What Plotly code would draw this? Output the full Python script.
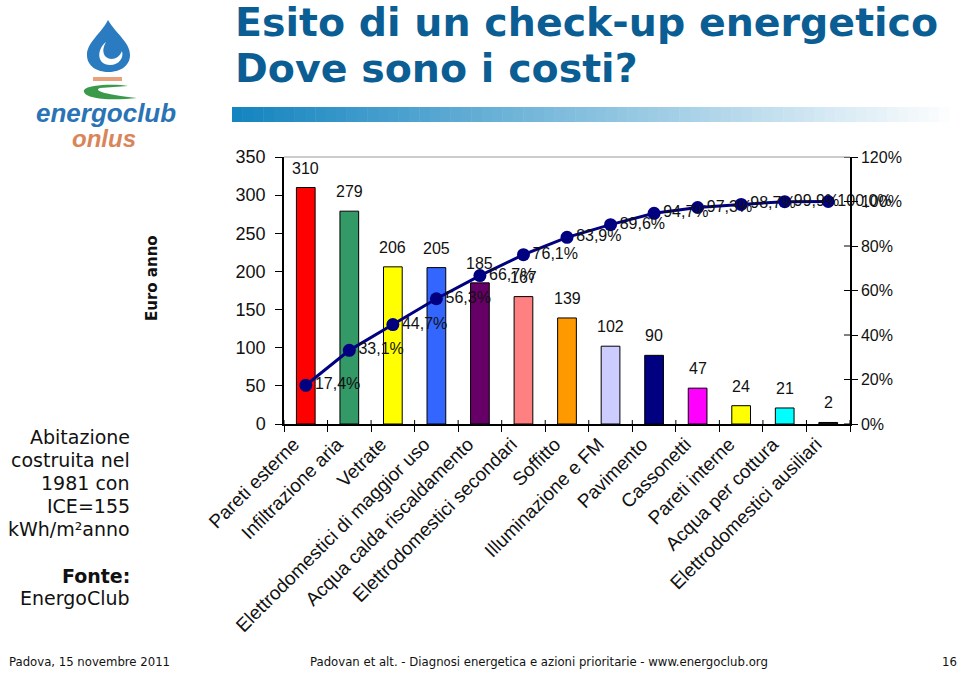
import plotly.graph_objects as go

# ---------------- data ----------------
categories = ["Pareti esterne", "Infiltrazione aria", "Vetrate",
              "Elettrodomestici di maggior uso", "Acqua calda riscaldamento",
              "Elettrodomestici secondari", "Soffitto", "Illuminazione e FM",
              "Pavimento", "Cassonetti", "Pareti interne", "Acqua per cottura",
              "Elettrodomestici ausiliari"]
euro_anno = [310, 279, 206, 205, 185, 167, 139, 102, 90, 47, 24, 21, 2]
cumulative_pct = [17.4, 33.1, 44.7, 56.3, 66.7, 76.1, 83.9, 89.6, 94.7, 97.3, 98.7, 99.9, 100.0]
pct_labels = ["17,4%", "33,1%", "44,7%", "56,3%", "66,7%", "76,1%", "83,9%",
              "89,6%", "94,7%", "97,3%", "98,7%", "99,9%", "100,0%"]
bar_colors = ["#FF0000", "#339966", "#FFFF00", "#3366FF", "#660066", "#FF8080",
              "#FF9900", "#CCCCFF", "#000080", "#FF00FF", "#FFFF00", "#00FFFF", "#222222"]
left_ticks = [0, 50, 100, 150, 200, 250, 300, 350]
right_ticks = [0, 0.2, 0.4, 0.6, 0.8, 1.0, 1.2]
right_tick_labels = ["0%", "20%", "40%", "60%", "80%", "100%", "120%"]

# ---------------- geometry helpers ----------------
W, H = 960, 673
PL, PR, PT, PB = 284, 850, 157, 424


def xp(px):
    return (px - PL) / (PR - PL)


def yp(py):
    return (PB - py) / (PB - PT)


def path(cmds):
    out = []
    for c in cmds:
        if isinstance(c, str):
            out.append(c)
        else:
            out.append(f"{xp(c[0]):.5f},{yp(c[1]):.5f}")
    return " ".join(out)


fig = go.Figure()

fig.add_trace(go.Bar(
    x=categories, y=euro_anno, width=0.43,
    marker=dict(color=bar_colors, line=dict(color="black", width=1)),
    showlegend=False, yaxis="y",
))

fig.add_trace(go.Scatter(
    x=categories, y=[v / 100 for v in cumulative_pct], yaxis="y2",
    mode="lines+markers+text",
    line=dict(color="#000080", width=3),
    marker=dict(color="#000080", size=13),
    text=pct_labels, textposition="middle right",
    textfont=dict(family="Arial, Liberation Sans", size=16, color="#111"),
    cliponaxis=False, showlegend=False,
))

fig.update_layout(
    width=W, height=H,
    margin=dict(l=PL, r=W - PR, t=PT, b=H - PB, autoexpand=False),
    paper_bgcolor="white", plot_bgcolor="white",
    bargap=0.57,
    xaxis=dict(
        type="category", range=[-0.5, len(categories) - 0.5],
        tickangle=-45, tickson="boundaries",
        ticks="outside", ticklen=6, tickcolor="black",
        showline=True, linecolor="black", linewidth=1.5,
        tickfont=dict(family="Arial, Liberation Sans", size=19, color="#111"),
        ticklabelshift=-12, ticklabelstandoff=0,
        showgrid=False, zeroline=False,
    ),
    yaxis=dict(
        range=[0, 350], tickvals=left_ticks, ticks="outside", ticklen=7,
        tickcolor="black", showline=True, linecolor="black", linewidth=1.5,
        showgrid=False, zeroline=False, ticklabelstandoff=6,
        tickfont=dict(family="Arial, Liberation Sans", size=18, color="#111"),
    ),
    yaxis2=dict(
        range=[0, 1.2], overlaying="y", side="right",
        tickvals=right_ticks, ticktext=right_tick_labels,
        ticks="outside", ticklen=6, tickcolor="black",
        showline=True, linecolor="black", linewidth=1.5,
        showgrid=False, zeroline=False,
        tickfont=dict(family="Arial, Liberation Sans", size=16, color="#111"),
    ),
)

shapes = []
# top border line of plot area
shapes.append(dict(type="line", xref="paper", yref="paper", x0=0, x1=1, y0=1, y1=1,
                   line=dict(color="#999999", width=1)))
# inside halves of right axis ticks (crossing ticks)
for t in right_ticks:
    shapes.append(dict(type="line", xref="paper", yref="y2", x0=1 - 6 / 566, x1=1,
                       y0=t, y1=t, line=dict(color="black", width=1)))
# inside halves of x ticks
for i in range(len(categories) + 1):
    xx = i / len(categories)
    shapes.append(dict(type="line", xref="paper", yref="paper", x0=xx, x1=xx,
                       y0=0, y1=4 / 267, line=dict(color="black", width=1)))

# gradient bar under title
n = 70
x_start, x_end = 232, 960
for i in range(n):
    a = x_start + (x_end - x_start) * i / n
    b = x_start + (x_end - x_start) * (i + 1) / n + 0.5
    f = i / (n - 1)
    r = int(21 + (255 - 21) * f)
    g = int(133 + (255 - 133) * f)
    bl = int(192 + (255 - 192) * f)
    shapes.append(dict(type="rect", xref="paper", yref="paper",
                       x0=xp(a), x1=xp(b), y0=yp(122), y1=yp(107),
                       fillcolor=f"rgb({r},{g},{bl})", line=dict(width=0), layer="below"))

# logo: drop
shapes.append(dict(type="path", xref="paper", yref="paper", fillcolor="#2a7bbf",
                   line=dict(width=0),
                   path=path(["M", (108, 20), "C", (101, 34), (87, 42), (87, 55),
                              "C", (87, 66), (97, 72), (108.5, 72),
                              "C", (120, 72), (130, 66), (130, 55),
                              "C", (130, 42), (116, 34), (108, 20), "Z"])))
shapes.append(dict(type="path", xref="paper", yref="paper", fillcolor="white",
                   line=dict(width=0),
                   path=path(["M", (106, 42), "C", (96, 50), (97, 65), (110, 65),
                              "C", (119, 65), (124, 58), (122, 51),
                              "C", (119, 59), (111, 61), (106, 57),
                              "C", (102, 53), (103, 47), (106, 42), "Z"])))
shapes.append(dict(type="rect", xref="paper", yref="paper", fillcolor="#e8a27a",
                   line=dict(width=0), x0=xp(93), x1=xp(122), y0=yp(81), y1=yp(77)))
shapes.append(dict(type="path", xref="paper", yref="paper", fillcolor="#3a9a4a",
                   line=dict(width=0),
                   path=path(["M", (84, 90), "C", (88, 84), (118, 84), (128, 86),
                              "L", (100, 88), "C", (94, 90), (100, 94), (137, 98),
                              "C", (110, 101), (82, 99), (84, 90), "Z"])))

fig.update_layout(shapes=shapes)

ann = []

# bar value labels (data-positioned)
for cat, v in zip(categories, euro_anno):
    ann.append(dict(text=str(v), x=cat, y=v, xref="x", yref="y", xanchor="center",
                    yanchor="bottom", yshift=9, showarrow=False,
                    font=dict(family="Arial, Liberation Sans", size=16, color="#111")))


def add_text(text, px, py, size, color="#111", family="Arial, Liberation Sans",
             xanchor="left", yanchor="middle", angle=0, bold=False, italic=False):
    t = text
    if bold:
        t = f"<b>{t}</b>"
    if italic:
        t = f"<i>{t}</i>"
    ann.append(dict(text=t, x=xp(px), y=yp(py), xref="paper", yref="paper",
                    xanchor=xanchor, yanchor=yanchor, showarrow=False, textangle=angle,
                    font=dict(size=size, color=color, family=family)))


# title
add_text("Esito di un check-up energetico", 233, 22, 39.5, color="#0b5e93",
         family="Verdana, DejaVu Sans", bold=True)
add_text("Dove sono i costi?", 233, 68, 39.5, color="#0b5e93",
         family="Verdana, DejaVu Sans", bold=True)

# logo text
add_text("energoclub", 106, 113, 26, color="#2a73b5",
         family="Arial, Liberation Sans", xanchor="center", bold=True, italic=True)
add_text("onlus", 104, 138, 24, color="#d9855a",
         family="Arial, Liberation Sans", xanchor="center", bold=True, italic=True)

# y axis title
add_text("Euro anno", 152, 278, 15, family="Verdana, DejaVu Sans", angle=-90,
         xanchor="center", bold=True)

# left description
desc = ["Abitazione", "costruita nel", "1981 con", "ICE=155", "kWh/m²anno"]
for i, line in enumerate(desc):
    add_text(line, 132, 437 + 23 * i, 19, family="Verdana, DejaVu Sans", xanchor="right")
add_text("Fonte:", 132, 576, 19, family="Verdana, DejaVu Sans", xanchor="right", bold=True)
add_text("EnergoClub", 132, 598, 19, family="Verdana, DejaVu Sans", xanchor="right")

# footer
add_text("Padova, 15 novembre 2011", 7, 661, 13, family="Tahoma, DejaVu Sans Condensed, DejaVu Sans")
add_text("Padovan et alt. - Diagnosi energetica e azioni prioritarie - www.energoclub.org",
         308, 661, 13, family="Tahoma, DejaVu Sans Condensed, DejaVu Sans")
add_text("16", 959, 661, 13, family="Tahoma, DejaVu Sans Condensed, DejaVu Sans", xanchor="right")

fig.update_layout(annotations=ann)

fig.write_html("out.html", config={"displayModeBar": False},
               post_script="document.body.style.margin='0';document.body.style.overflow='hidden';")
